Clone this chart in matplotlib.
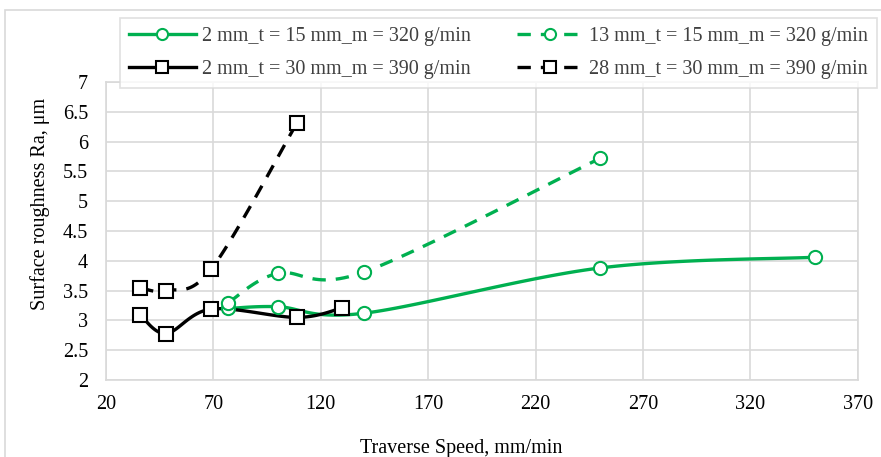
import matplotlib.pyplot as plt
import numpy as np
from matplotlib.patches import Rectangle

plt.rcParams['font.family'] = ['Liberation Serif', 'DejaVu Serif']

# data
x_g_solid = [77, 100, 140, 250, 350]
y_g_solid = [3.20, 3.23, 3.12, 3.88, 4.06]
x_g_dash = [77, 100, 140, 250]
y_g_dash = [3.30, 3.79, 3.81, 5.72]
x_k_solid = [36, 48, 69, 109, 130]
y_k_solid = [3.09, 2.78, 3.19, 3.05, 3.21]
x_k_dash = [36, 48, 69, 109]
y_k_dash = [3.55, 3.50, 3.86, 6.32]

labels = ['2 mm_t = 15 mm_m = 320 g/min', '13 mm_t = 15 mm_m = 320 g/min',
          '2 mm_t = 30 mm_m = 390 g/min', '28 mm_t = 30 mm_m = 390 g/min']
xticks = [20, 70, 120, 170, 220, 270, 320, 370]
yticks = [2, 2.5, 3, 3.5, 4, 4.5, 5, 5.5, 6, 6.5, 7]

GREEN = '#00B050'
GRID = '#d9d9d9'
FS = 14.5


def smooth(xs, ys, n=30):
    # Excel-style smoothed line (Catmull-Rom through the points)
    p = np.column_stack([xs, ys]).astype(float)
    p = np.vstack([p[0], p, p[-1]])
    out = []
    t = np.linspace(0, 1, n)[:, None]
    for i in range(1, len(p) - 2):
        p0, p1, p2, p3 = p[i - 1], p[i], p[i + 1], p[i + 2]
        c1 = p1 + (p2 - p0) / 6
        c2 = p2 - (p3 - p1) / 6
        seg = ((1 - t) ** 3) * p1 + 3 * ((1 - t) ** 2) * t * c1 + 3 * (1 - t) * t ** 2 * c2 + t ** 3 * p2
        out.append(seg)
    out = np.vstack(out)
    return out[:, 0], out[:, 1]


fig = plt.figure(figsize=(8.81, 4.57), dpi=100)
ax = fig.add_axes([0.1203, 0.1685, 0.8535, 0.652])

fig.patches.append(Rectangle((5 / 881, -0.1), 1.1, 1 - 10 / 457 + 0.1, transform=fig.transFigure,
                             fill=False, edgecolor=GRID, linewidth=1.2))

lw = 2.4
dash = (0, (4, 3))
series = [
    (x_g_solid, y_g_solid, GREEN, '-', 'o'),
    (x_g_dash, y_g_dash, GREEN, dash, 'o'),
    (x_k_solid, y_k_solid, 'black', '-', 's'),
    (x_k_dash, y_k_dash, 'black', dash, 's'),
]
handles = []
for (xs, ys, c, ls, m), lab in zip(series, labels):
    sx, sy = smooth(xs, ys)
    ax.plot(sx, sy, color=c, linestyle=ls, linewidth=lw, zorder=3)
    ax.plot(xs, ys, linestyle='none', marker=m, markersize=9.5, markerfacecolor='white',
            markeredgecolor=c, markeredgewidth=1.5, zorder=4)
    h, = ax.plot([], [], color=c, linestyle=ls, linewidth=lw, marker=m, markersize=8,
                 markerfacecolor='white', markeredgecolor=c, markeredgewidth=1.5, label=lab)
    handles.append(h)

ax.set_xlim(20, 370)
ax.set_ylim(2, 7)
ax.set_xticks(xticks)
ax.set_yticks(yticks)
ax.set_xticklabels([str(v) for v in xticks])
ax.set_yticklabels([f'{v:g}' for v in yticks])
ax.grid(True, color=GRID, linewidth=1.2)
ax.set_axisbelow(True)
for s in ax.spines.values():
    s.set_color(GRID)
    s.set_linewidth(1.2)
ax.tick_params(length=0, labelsize=FS, pad=11)
ax.tick_params(axis='y', pad=13)

# axis titles sit where Excel put them (not centred on the plot area)
fig.text(461 / 881, 1 - 448 / 457, 'Traverse Speed, mm/min', fontsize=FS,
         ha='center', va='center')
fig.text(40 / 881, 1 - 204 / 457, 'Surface roughness Ra, μm', fontsize=FS,
         ha='center', va='center', rotation=90)

order = [0, 2, 1, 3]
leg = fig.legend([handles[i] for i in order], [labels[i] for i in order], ncol=2,
                 loc='upper left', bbox_to_anchor=(120 / 881, 1 - 18 / 457),
                 fontsize=FS, frameon=True, fancybox=False, edgecolor=GRID,
                 handlelength=3.3, columnspacing=2.3, handletextpad=0.3,
                 borderpad=0.45, labelspacing=0.7, borderaxespad=0)
leg.get_frame().set_linewidth(1.2)
for t in leg.get_texts():
    t.set_color('#404040')

fig.savefig('out.png', dpi=100)
